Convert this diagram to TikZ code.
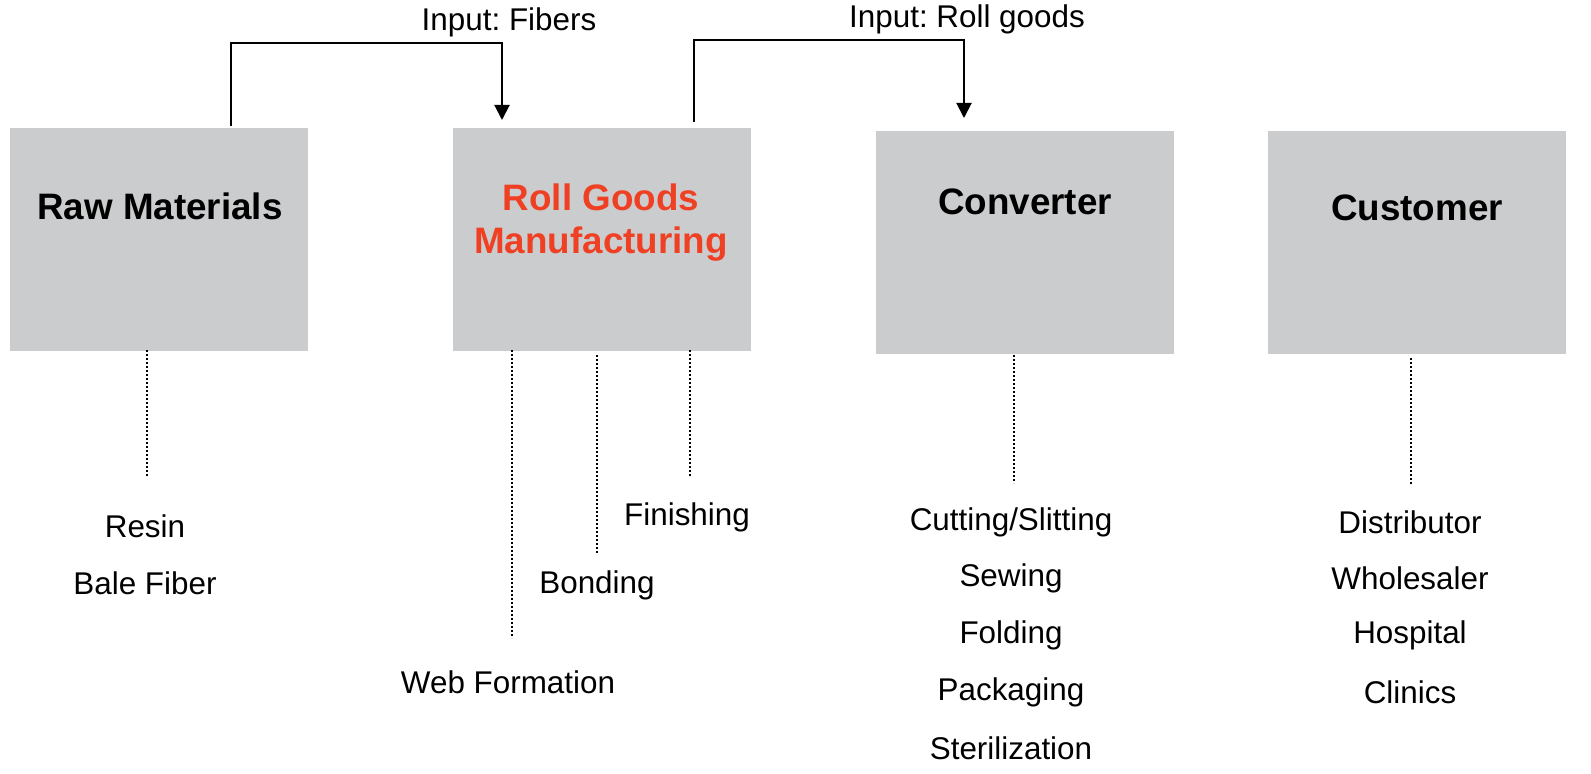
\documentclass[tikz,border=0pt]{standalone}
\usepackage{fontspec}
\setmainfont{Liberation Sans}
\usetikzlibrary{arrows.meta,calc}
\definecolor{boxgray}{RGB}{203,204,206}
\definecolor{rollred}{RGB}{240,64,36}
\frenchspacing
\tikzset{
  box/.style={fill=boxgray, draw=none, minimum width=149pt, minimum height=111.5pt, inner sep=0pt},
  title/.style={font=\bfseries\fontsize{18.4}{22}\selectfont, align=center, inner sep=0pt},
  lbl/.style={font=\fontsize{15.7}{19}\selectfont, inner sep=0pt},
  flow/.style={line width=1pt, -{Triangle[length=7.5pt,width=7.5pt]}},
  dots/.style={line width=0.9pt, dash pattern=on 0.9pt off 1.1pt}
}
\begin{document}
\begin{tikzpicture}[x=0.5pt,y=-0.5pt]
\useasboundingbox (0,0) rectangle (1591,774);
% boxes
\node[box] (raw) at (159,239.5) {};
\node[box] (roll) at (601.5,239.5) {};
\node[box] (conv) at (1025,242.5) {};
\node[box] (cust) at (1417,242.5) {};
% titles
\node[title] (rawt) at (160,206) {Raw Materials};
\node[title, text=rollred] (rollt) at (601,223) {Roll Goods\\[-0.5pt]Manufacturing};
\node[title] (convt) at (1025,202) {Converter};
\node[title] (custt) at (1417,208) {Customer};
% input arrows
\coordinate (f1) at (231,126);
\coordinate (f2) at (502,120);
\coordinate (r1) at (694,122);
\coordinate (r2) at (964,118);
\draw[flow] (f1) -- (231,43) -| (f2);
\draw[flow] (r1) -- (694,40) -| (r2);
\node[lbl] (inf) at (509,22) {Input: Fibers};
\node[lbl] (inr) at (967,19) {Input: Roll goods};
% labels
\node[lbl] (resin) at (145,526) {Resin};
\node[lbl] (bale) at (145,583) {Bale Fiber};
\node[lbl] (web) at (508,682) {Web Formation};
\node[lbl] (bond) at (597,585) {Bonding};
\node[lbl] (fin) at (687,517) {Finishing};
\node[lbl] (cut) at (1011,522) {Cutting/Slitting};
\node[lbl] (sew) at (1011,578) {Sewing};
\node[lbl] (fold) at (1011,635) {Folding};
\node[lbl] (pack) at (1011,692) {Packaging};
\node[lbl] (ster) at (1011,748) {Sterilization};
\node[lbl] (dist) at (1410,522) {Distributor};
\node[lbl] (whol) at (1410,578) {Wholesaler};
\node[lbl] (hosp) at (1410,635) {Hospital};
\node[lbl] (clin) at (1410,692) {Clinics};
% dotted lines
\coordinate (d1a) at (147,350); \coordinate (d1b) at (147,477);
\coordinate (d2a) at (512,350); \coordinate (d2b) at (512,638);
\coordinate (d3a) at (597,355); \coordinate (d3b) at (597,553);
\coordinate (d4a) at (690,350); \coordinate (d4b) at (690,477);
\coordinate (d5a) at (1014,355); \coordinate (d5b) at (1014,483);
\coordinate (d6a) at (1411,358); \coordinate (d6b) at (1411,485);
\draw[dots] (d1a) -- (d1b);
\draw[dots] (d2a) -- (d2b);
\draw[dots] (d3a) -- (d3b);
\draw[dots] (d4a) -- (d4b);
\draw[dots] (d5a) -- (d5b);
\draw[dots] (d6a) -- (d6b);
\end{tikzpicture}
\end{document}
